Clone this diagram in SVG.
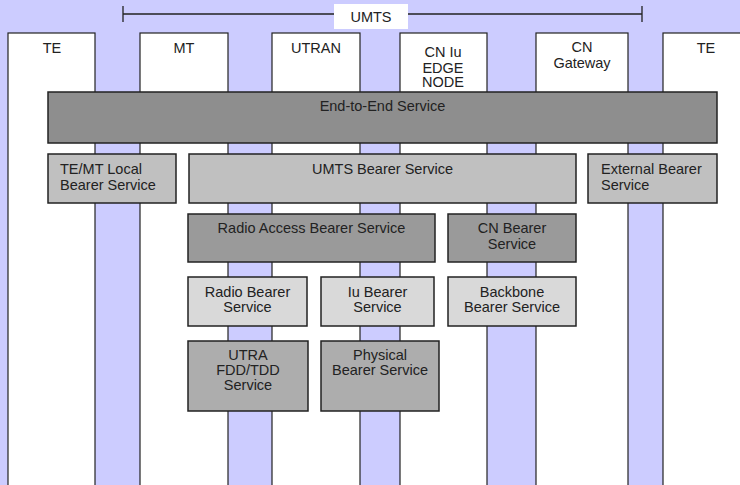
<svg xmlns="http://www.w3.org/2000/svg" width="740" height="485" viewBox="0 0 740 485">
<style>
text{font-family:"Liberation Sans",Arial,sans-serif;font-size:14.5px;fill:#222}
.c{text-anchor:middle}
.col{fill:#fff;stroke:#222;stroke-width:1.2}
.box{stroke:#222;stroke-width:1.5}
.d1{fill:#8e8e8e}
.d2{fill:#c0c0c0}
.d3{fill:#9a9a9a}
.d4{fill:#d9d9d9}
.d5{fill:#adadad}
.ln{stroke:#222;stroke-width:1.3;fill:none}
</style>
<rect x="0" y="0" width="740" height="485" fill="#ccccff"/>
<g id="connectors">
<path class="ln" d="M123,14H642M123,6V22M642,6V22"/>
</g>
<g id="umts-label">
<rect x="334" y="4" width="74" height="25" fill="#fff"/>
<text class="c" x="371" y="22">UMTS</text>
</g>
<g id="col-te1"><rect class="col" x="8" y="33" width="87" height="460"/><text class="c" x="52" y="53">TE</text></g>
<g id="col-mt"><rect class="col" x="140" y="33" width="88" height="460"/><text class="c" x="184" y="53">MT</text></g>
<g id="col-utran"><rect class="col" x="272" y="33" width="88" height="460"/><text class="c" x="316" y="53">UTRAN</text></g>
<g id="col-cniu"><rect class="col" x="400" y="33" width="87" height="460"/><text class="c" x="443" y="57">CN Iu</text><text class="c" x="443" y="72.5">EDGE</text><text class="c" x="443" y="87">NODE</text></g>
<g id="col-cngw"><rect class="col" x="536" y="33" width="92" height="460"/><text class="c" x="582" y="52">CN</text><text class="c" x="582" y="68">Gateway</text></g>
<g id="col-te2"><rect class="col" x="663" y="33" width="90" height="460"/><text class="c" x="706" y="53">TE</text></g>
<g id="end-to-end"><rect class="box d1" x="48" y="92" width="669" height="51"/><text class="c" x="382.5" y="111">End-to-End Service</text></g>
<g id="temt-local"><rect class="box d2" x="48" y="154" width="128" height="49"/><text x="60" y="174">TE/MT Local</text><text x="60" y="190">Bearer Service</text></g>
<g id="umts-bearer"><rect class="box d2" x="189" y="154" width="387" height="49"/><text class="c" x="382.5" y="174">UMTS Bearer Service</text></g>
<g id="external-bearer"><rect class="box d2" x="588" y="154" width="129" height="49"/><text x="601" y="174">External Bearer</text><text x="601" y="190">Service</text></g>
<g id="radio-access"><rect class="box d3" x="188" y="214" width="247" height="48"/><text class="c" x="311.5" y="233">Radio Access Bearer Service</text></g>
<g id="cn-bearer"><rect class="box d3" x="448" y="214" width="128" height="48"/><text class="c" x="512" y="233">CN Bearer</text><text class="c" x="512" y="249">Service</text></g>
<g id="radio-bearer"><rect class="box d4" x="188" y="277" width="119" height="49"/><text class="c" x="247.5" y="297">Radio Bearer</text><text class="c" x="247.5" y="312">Service</text></g>
<g id="iu-bearer"><rect class="box d4" x="321" y="277" width="113" height="49"/><text class="c" x="377.5" y="297">Iu Bearer</text><text class="c" x="377.5" y="312">Service</text></g>
<g id="backbone"><rect class="box d4" x="448" y="277" width="128" height="49"/><text class="c" x="512" y="297">Backbone</text><text class="c" x="512" y="312">Bearer Service</text></g>
<g id="utra"><rect class="box d5" x="188" y="341" width="120" height="70"/><text class="c" x="248" y="360">UTRA</text><text class="c" x="248" y="374.5">FDD/TDD</text><text class="c" x="248" y="389.5">Service</text></g>
<g id="physical"><rect class="box d5" x="321" y="341" width="118" height="70"/><text class="c" x="380" y="360">Physical</text><text class="c" x="380" y="375">Bearer Service</text></g>
</svg>
